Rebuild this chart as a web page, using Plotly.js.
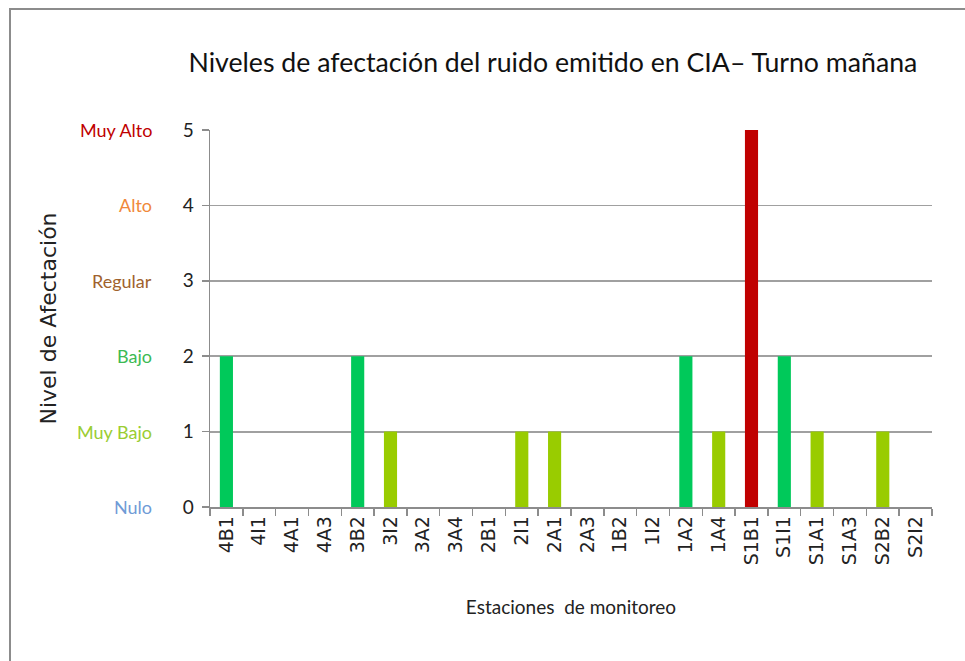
<!DOCTYPE html>
<html>
<head>
<meta charset="utf-8">
<script src="https://cdn.plot.ly/plotly-3.0.1.min.js"></script>
<style>
  html, body { margin: 0; padding: 0; background: #ffffff; }
  #wrap { position: relative; width: 965px; height: 661px; overflow: hidden; }
  #chart { width: 965px; height: 661px; }
  #frame { position: absolute; left: 9px; top: 8px; width: 980px; height: 700px;
           border-left: 2px solid #8c8c8c; border-top: 2px solid #8c8c8c; pointer-events: none; }
</style>
</head>
<body>
<div id="wrap">
  <div id="chart"></div>
  <div id="frame"></div>
</div>
<script>
// Stations (categories)
const stations = ["4B1","4I1","4A1","4A3","3B2","3I2","3A2","3A4","2B1","2I1","2A1",
                  "2A3","1B2","1I2","1A2","1A4","S1B1","S1I1","S1A1","S1A3","S2B2","S2I2"];
// Level of affectation per station (0..5)
const levels = [2,0,0,0,2,1,0,0,0,1,1,0,0,0,2,1,5,2,1,0,1,0];

// Level scale
const levelValues = [0,1,2,3,4,5];
const levelNames  = ["Nulo","Muy Bajo","Bajo","Regular","Alto","Muy Alto"];
const levelTextColors = ["#6f9bd6","#9acd32","#3cba54","#a0622d","#f0883a","#c00000"];
const levelBarColors  = ["#cccccc","#99cc00","#00c95a","#a0622d","#f0883a","#c00000"];

const humanist = "Lato";
const verdanaLike = "DejaVu Sans";

const trace = {
  type: "bar",
  x: stations,
  y: levels,
  marker: { color: levels.map(v => levelBarColors[v]), line: { width: 0 } },
  hoverinfo: "x+y"
};

const levelAnnotations = levelValues.map((v, i) => ({
  xref: "paper", yref: "y",
  x: -0.0775, y: v,
  xanchor: "right", yanchor: "middle",
  text: levelNames[i],
  showarrow: false,
  font: { family: humanist, size: 18, color: levelTextColors[i] }
}));

const layout = {
  width: 965, height: 661,
  margin: { l: 210, r: 33, t: 130, b: 154 },
  paper_bgcolor: "#ffffff",
  plot_bgcolor: "#ffffff",
  showlegend: false,
  bargap: 0.6,
  title: {
    text: "Niveles de afectación del ruido emitido en CIA– Turno mañana",
    xref: "container", yref: "container",
    x: 0.573, y: 0.905, xanchor: "center", yanchor: "middle",
    font: { family: humanist, size: 26.7, color: "#111111" }
  },
  xaxis: {
    type: "category",
    tickangle: -90,
    tickson: "boundaries",
    ticks: "outside", ticklen: 7, tickcolor: "#8c8c8c", tickwidth: 1.5,
    showline: true, linecolor: "#8c8c8c", linewidth: 1.5,
    showgrid: false,
    tickfont: { family: verdanaLike, size: 19, color: "#222222" },
    title: {
      text: "Estaciones  de monitoreo",
      standoff: 36,
      font: { family: humanist, size: 19, color: "#222222" }
    },
    automargin: true
  },
  yaxis: {
    range: [0, 5],
    tickvals: levelValues,
    ticktext: levelValues.map(String),
    ticks: "outside", ticklen: 7, tickcolor: "#8c8c8c", tickwidth: 1.5,
    ticklabelstandoff: 4,
    showline: true, linecolor: "#8c8c8c", linewidth: 1.5,
    showgrid: true, gridcolor: "#a0a0a0", gridwidth: 1.8,
    zeroline: false,
    tickfont: { family: humanist, size: 19, color: "#222222" },
    title: {
      text: "Nivel de Afectación",
      standoff: 120,
      font: { family: verdanaLike, size: 22, color: "#222222" }
    },
    automargin: true,
    fixedrange: true
  },
  annotations: levelAnnotations
};

Plotly.newPlot("chart", [trace], layout, { displayModeBar: false, staticPlot: true });
</script>
</body>
</html>
